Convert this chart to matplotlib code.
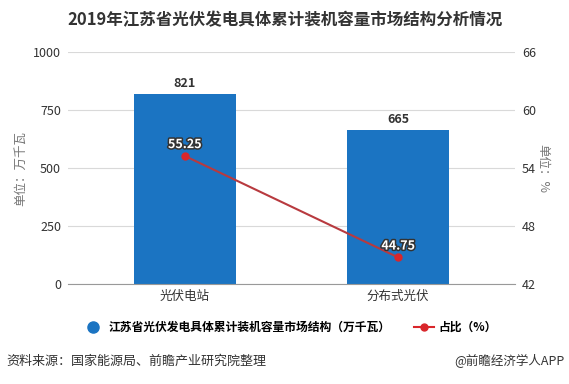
import matplotlib.pyplot as plt
import matplotlib.patheffects as pe
from matplotlib.lines import Line2D

plt.rcParams['font.family'] = ['Noto Sans CJK SC', 'DejaVu Sans']

categories = ['光伏电站', '分布式光伏']
capacity = [821, 665]
share = [55.25, 44.75]
left_ticks = [0, 250, 500, 750, 1000]
right_ticks = [42, 48, 54, 60, 66]

bar_color = '#1b74c2'
line_color = '#d9262b'

fig = plt.figure(figsize=(5.69, 3.84), dpi=100)
ax = fig.add_axes([0.1195, 0.2604, 0.7855, 0.6042])
x = list(range(len(categories)))

ax.bar(x, capacity, width=0.477, color=bar_color, zorder=2)
ax.set_xlim(-0.547, 1.547)
ax.set_ylim(0, 1000)
ax.set_yticks(left_ticks)
ax.set_xticks(x)
ax.set_xticklabels(categories, fontsize=9, color='#333333')
ax.tick_params(axis='y', length=0, labelsize=9, colors='#333333', pad=5)
ax.tick_params(axis='x', length=0, pad=4)
ax.grid(axis='y', color='#d9d9d9', linewidth=0.8, zorder=0)
for s in ['top', 'right', 'left']:
    ax.spines[s].set_visible(False)
ax.spines['bottom'].set_color('#999999')
ax.set_ylabel('单位：万千瓦', fontsize=9, color='#777777', labelpad=4)

for xi, v in zip(x, capacity):
    ax.text(xi, v + 15, str(v), ha='center', va='bottom', fontsize=9,
            fontweight='bold', color='#333333')

ax2 = ax.twinx()
ax2.set_ylim(42, 66)
ax2.set_yticks(right_ticks)
ax2.tick_params(axis='y', length=0, labelsize=9, colors='#333333', pad=5)
for s in ax2.spines.values():
    s.set_visible(False)
ax2.set_ylabel('单位：%', fontsize=9, color='#777777', rotation=270, labelpad=10)
ax2.plot(x, share, color='#b83a3f', linewidth=1.5, marker='o', markersize=5,
         markerfacecolor=line_color, markeredgecolor=line_color, zorder=3)
for xi, v in zip(x, share):
    ax2.text(xi, v + 0.5, f'{v:.2f}', ha='center', va='bottom', fontsize=9,
             fontweight='bold', color='white',
             path_effects=[pe.withStroke(linewidth=2.2, foreground='#333333')])

handles = [
    Line2D([], [], marker='o', linestyle='none', markersize=8,
           markerfacecolor=bar_color, markeredgecolor=bar_color),
    Line2D([], [], color=line_color, marker='o', markersize=5, linewidth=1.5),
]
labels = ['江苏省光伏发电具体累计装机容量市场结构（万千瓦）', '占比（%）']
fig.legend(handles, labels, loc='center', bbox_to_anchor=(0.51, 0.148), ncol=2,
           frameon=False, handlelength=1.7, handletextpad=0.4, columnspacing=2.0,
           borderpad=0, prop={'weight': 'bold', 'size': 8.5})

fig.text(0.5, 0.948, '2019年江苏省光伏发电具体累计装机容量市场结构分析情况',
         ha='center', va='center', fontsize=11.9, fontweight='bold', color='#333333')
fig.text(0.012, 0.06, '资料来源：国家能源局、前瞻产业研究院整理', ha='left', va='center',
         fontsize=9.4, color='#333333')
fig.text(0.992, 0.06, '@前瞻经济学人APP', ha='right', va='center',
         fontsize=9, color='#333333')

fig.savefig('out.png', dpi=100)
